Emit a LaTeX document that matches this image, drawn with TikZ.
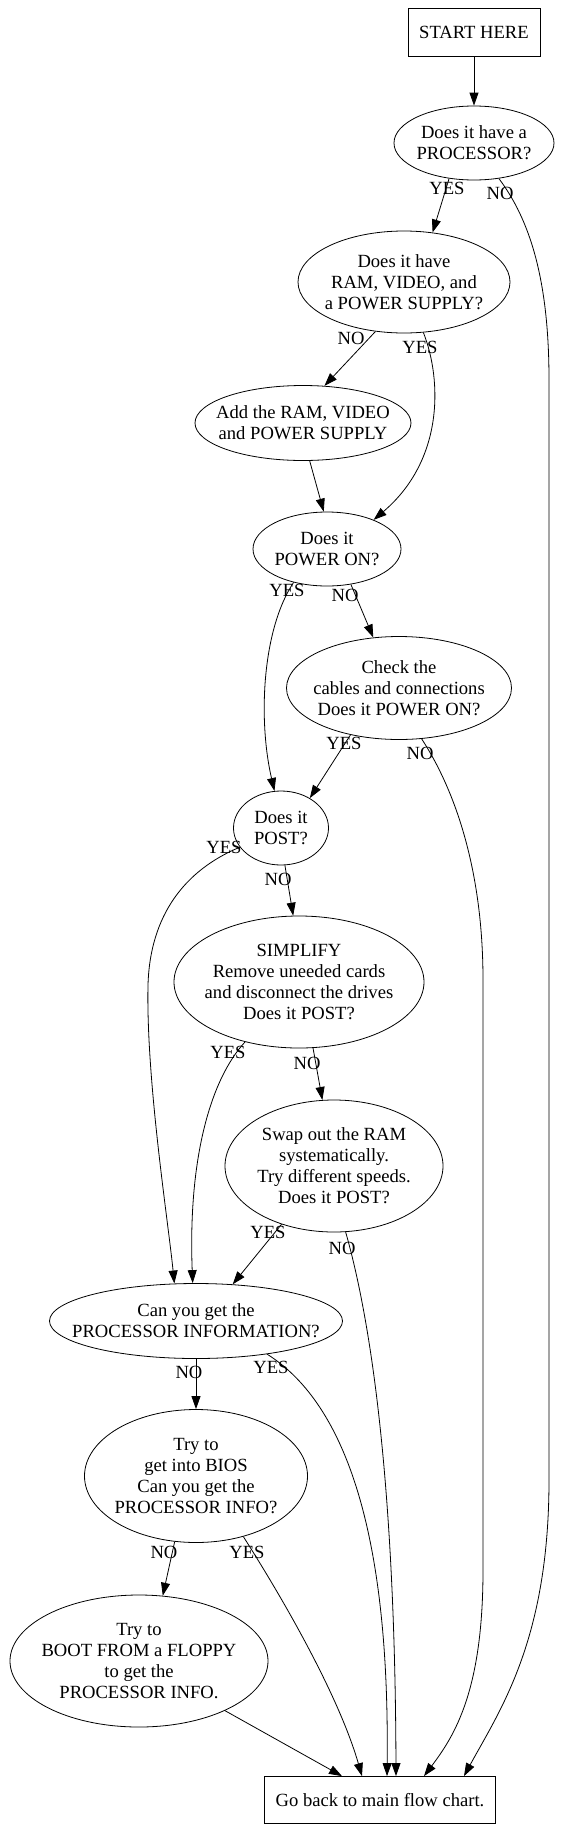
\documentclass[tikz,border=0pt]{standalone}
\usepackage{fontspec}
\setmainfont{Liberation Serif}
\usetikzlibrary{shapes.geometric,arrows.meta}
\begin{document}
\begin{tikzpicture}[x=1bp,y=-1bp,
  every node/.style={font=\fontsize{18.6bp}{21bp}\selectfont},
  dec/.style={draw, ellipse, inner sep=0pt, line width=0.8bp},
  boxn/.style={draw, rectangle, inner sep=0pt, line width=0.8bp},
  txt/.style={align=center, inner sep=0pt},
  lab/.style={inner sep=0pt},
  arr/.style={line width=0.8bp, -{Triangle[length=13bp,width=9bp]}}]
\useasboundingbox (0,0) rectangle (564,1831);

% nodes
\node[boxn, minimum width=132bp, minimum height=48bp] (start) at (474,32) {START HERE};
\node[dec, minimum width=160bp, minimum height=74bp] (proc) at (474,143) {};
\node[txt] (proc-t) at (proc) {Does it have a\\PROCESSOR?};
\node[dec, minimum width=212bp, minimum height=102bp] (ramq) at (404,282) {};
\node[txt] (ramq-t) at (ramq) {Does it have\\RAM, VIDEO, and\\a POWER SUPPLY?};
\node[dec, minimum width=216bp, minimum height=75bp] (add) at (303,423) {};
\node[txt] (add-t) at (add) {Add the RAM, VIDEO\\and POWER SUPPLY};
\node[dec, minimum width=148bp, minimum height=74bp] (pwr) at (327,549) {};
\node[txt] (pwr-t) at (pwr) {Does it\\POWER ON?};
\node[dec, minimum width=225bp, minimum height=103bp] (check) at (399,688) {};
\node[txt] (check-t) at (check) {Check the\\cables and connections\\Does it POWER ON?};
\node[dec, minimum width=95bp, minimum height=74bp] (post) at (281,828) {};
\node[txt] (post-t) at (post) {Does it\\POST?};
\node[dec, minimum width=250bp, minimum height=132bp] (simp) at (299,982) {};
\node[txt] (simp-t) at (simp) {SIMPLIFY\\Remove uneeded cards\\and disconnect the drives\\Does it POST?};
\node[dec, minimum width=218bp, minimum height=132bp] (swap) at (334,1166) {};
\node[txt] (swap-t) at (swap) {Swap out the RAM\\systematically.\\Try different speeds.\\Does it POST?};
\node[dec, minimum width=293bp, minimum height=75bp] (canproc) at (196,1321) {};
\node[txt] (canproc-t) at (canproc) {Can you get the\\PROCESSOR INFORMATION?};
\node[dec, minimum width=223bp, minimum height=133bp] (bios) at (196,1476) {};
\node[txt] (bios-t) at (bios) {Try to\\get into BIOS\\Can you get the\\PROCESSOR INFO?};
\node[dec, minimum width=258bp, minimum height=132bp] (floppy) at (139,1661) {};
\node[txt] (floppy-t) at (floppy) {Try to\\BOOT FROM a FLOPPY\\to get the\\PROCESSOR INFO.};
\node[boxn, minimum width=231bp, minimum height=47bp] (back) at (380,1800) {Go back to main flow chart.};

% connectors
\draw[arr] (start.south) -- (proc.north);
\draw[arr] (proc.235) -- (ramq.60);
\draw[arr] (proc.305) .. controls (530,220) and (549,280) .. (549,380) -- (549,1480)
  .. controls (549,1640) and (500,1710) .. ([xshift=84bp]back.north);
\draw[arr] (ramq.240) -- (add.60);
\draw[arr] (ramq.291) .. controls (442,380) and (444,460) .. (pwr.32);
\draw[arr] (add.280) -- (pwr.95);
\draw[arr] (pwr.225) .. controls (262,630) and (258,720) .. (post.100);
\draw[arr] (pwr.304) -- (check.117);
\draw[arr] (check.224) -- (post.46);
\draw[arr] (check.294) .. controls (455,790) and (483,870) .. (483,980) -- (483,1570)
  .. controls (483,1690) and (455,1735) .. ([xshift=44bp]back.north);
\draw[arr] (post.205) .. controls (185,870) and (150,915) .. (148,985)
  .. controls (146,1080) and (168,1220) .. (canproc.120);
\draw[arr] (post.276) -- (simp.95);
\draw[arr] (simp.228) .. controls (210,1080) and (188,1160) .. (canproc.95);
\draw[arr] (simp.282) -- (swap.100);
\draw[arr] (swap.228) -- (canproc.45);
\draw[arr] (swap.280) .. controls (365,1300) and (395,1450) .. ([xshift=16bp]back.north);
\draw[arr] (canproc.south) -- (bios.north);
\draw[arr] (canproc.335) .. controls (340,1400) and (390,1520) .. ([xshift=7bp]back.north);
\draw[arr] (bios.252) -- (floppy.70);
\draw[arr] (bios.308) .. controls (290,1610) and (340,1700) .. ([xshift=-18bp]back.north);
\draw[arr] (floppy.330) -- ([xshift=-38bp]back.north);

% edge labels
\node[lab] (l1y) at (447,188) {YES};
\node[lab] (l1n) at (500,193) {NO};
\node[lab] (l2n) at (351,338) {NO};
\node[lab] (l2y) at (420,347) {YES};
\node[lab] (l3y) at (287,590) {YES};
\node[lab] (l3n) at (345,595) {NO};
\node[lab] (l4y) at (344,743) {YES};
\node[lab] (l4n) at (420,753) {NO};
\node[lab] (l5y) at (224,847) {YES};
\node[lab] (l5n) at (278,879) {NO};
\node[lab] (l6y) at (228,1052) {YES};
\node[lab] (l6n) at (307,1063) {NO};
\node[lab] (l7y) at (268,1232) {YES};
\node[lab] (l7n) at (342,1248) {NO};
\node[lab] (l8n) at (189,1372) {NO};
\node[lab] (l8y) at (271,1367) {YES};
\node[lab] (l9n) at (164,1552) {NO};
\node[lab] (l9y) at (247,1552) {YES};
\end{tikzpicture}
\end{document}
